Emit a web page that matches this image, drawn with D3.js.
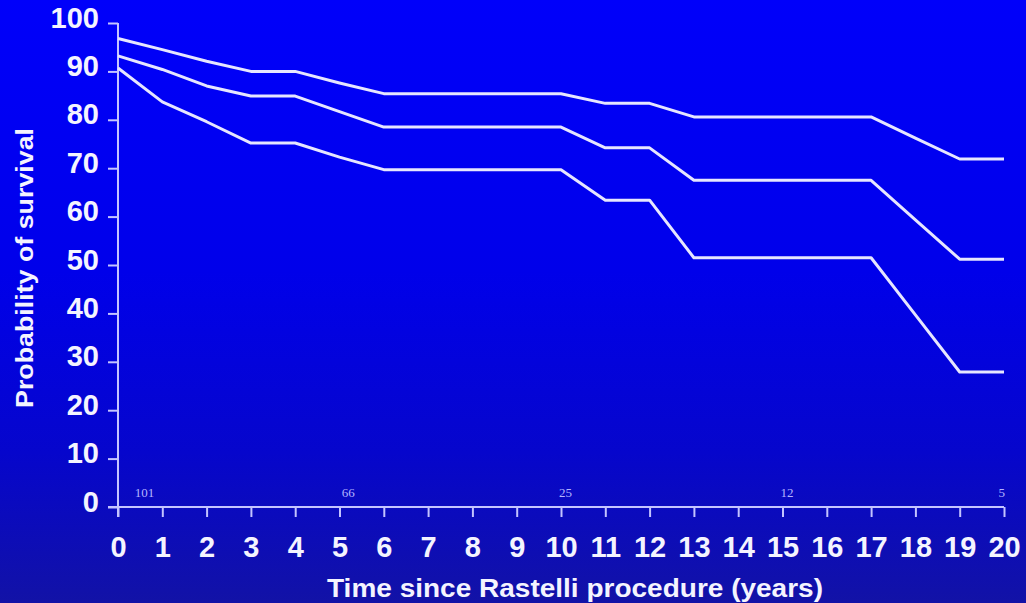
<!DOCTYPE html>
<html>
<head>
<meta charset="utf-8">
<script src="https://cdn.jsdelivr.net/npm/d3@7"></script>
<style>
  html, body { margin: 0; padding: 0; background: #0000e0; }
  svg { display: block; }
</style>
</head>
<body>
<svg id="chart" width="1026" height="603"></svg>
<script>
// Kaplan–Meier survival after the Rastelli procedure, with confidence bounds
const years = d3.range(0, 21);
const upperBound = [96.8, 94.5, 92.1, 90.0, 90.0, 87.6, 85.4, 85.4, 85.4, 85.4, 85.4, 83.4, 83.4, 80.6, 80.6, 80.6, 80.6, 80.6, 76.2, 71.9, 71.9];
const survival   = [93.2, 90.4, 87.0, 84.9, 84.9, 81.7, 78.5, 78.5, 78.5, 78.5, 78.5, 74.2, 74.2, 67.5, 67.5, 67.5, 67.5, 67.5, 59.3, 51.2, 51.2];
const lowerBound = [90.7, 83.7, 79.6, 75.2, 75.2, 72.3, 69.7, 69.7, 69.7, 69.7, 69.7, 63.4, 63.4, 51.5, 51.5, 51.5, 51.5, 51.5, 39.7, 27.9, 27.9];

// Numbers at risk, placed along the time axis
const atRiskYear  = [0.6, 5.2, 10.1, 15.1, 19.95];
const atRiskCount = ["101", "66", "25", "12", "5"];

const yTicks = d3.range(0, 101, 10);
const xTicks = d3.range(0, 21, 1);

const xTitle = "Time since Rastelli procedure (years)";
const yTitle = "Probability of survival";

const W = 1026, H = 603;
const svg = d3.select("#chart");

// Background gradient
const defs = svg.append("defs");
const grad = defs.append("linearGradient")
  .attr("id", "bg").attr("x1", 0).attr("y1", 0).attr("x2", 0).attr("y2", 1);
grad.append("stop").attr("offset", "0%").attr("stop-color", "#0000fa");
grad.append("stop").attr("offset", "45%").attr("stop-color", "#0000ea");
grad.append("stop").attr("offset", "75%").attr("stop-color", "#0606cc");
grad.append("stop").attr("offset", "100%").attr("stop-color", "#1212a6");
svg.append("rect").attr("width", W).attr("height", H).attr("fill", "url(#bg)");

const x = d3.scaleLinear().domain([0, 20]).range([118, 1004]);
const y = d3.scaleLinear().domain([0, 100]).range([507, 23]);

const axisColor = "#c4c4ff";
const textColor = "#f4f4ff";

// Y axis
const yAxis = svg.append("g")
  .attr("transform", `translate(${x(0)},0)`)
  .call(d3.axisLeft(y).tickValues(yTicks).tickSize(10).tickPadding(9).tickSizeOuter(0));
yAxis.select(".domain").attr("stroke", axisColor).attr("stroke-width", 2)
  .attr("d", `M0,${y(100)}V${y(0) + 10}`);
yAxis.selectAll(".tick line").attr("stroke", axisColor).attr("stroke-width", 2);
yAxis.selectAll(".tick text")
  .attr("fill", textColor)
  .attr("font-family", "'Liberation Sans', Arial, sans-serif")
  .attr("font-weight", "bold")
  .attr("font-size", 29)
  .attr("dy", "0.14em");

// X axis
const xAxis = svg.append("g")
  .attr("transform", `translate(0,${y(0)})`)
  .call(d3.axisBottom(x).tickValues(xTicks).tickSize(10).tickPadding(19).tickSizeOuter(0));
xAxis.select(".domain").attr("stroke", axisColor).attr("stroke-width", 2)
  .attr("d", `M${x(0) - 10},0H${x(20)}`);
xAxis.selectAll(".tick line").attr("stroke", axisColor).attr("stroke-width", 2);
xAxis.selectAll(".tick text")
  .attr("fill", textColor)
  .attr("font-family", "'Liberation Sans', Arial, sans-serif")
  .attr("font-weight", "bold")
  .attr("font-size", 29);

// Axis titles
svg.append("text")
  .attr("x", 575).attr("y", 597)
  .attr("text-anchor", "middle")
  .attr("fill", textColor)
  .attr("font-family", "'Liberation Sans', Arial, sans-serif")
  .attr("font-weight", "bold")
  .attr("font-size", 26)
  .attr("textLength", 496)
  .attr("lengthAdjust", "spacingAndGlyphs")
  .text(xTitle);

svg.append("text")
  .attr("transform", "translate(33,268) rotate(-90)")
  .attr("text-anchor", "middle")
  .attr("fill", textColor)
  .attr("font-family", "'Liberation Sans', Arial, sans-serif")
  .attr("font-weight", "bold")
  .attr("font-size", 23)
  .attr("textLength", 280)
  .attr("lengthAdjust", "spacingAndGlyphs")
  .text(yTitle);

// Numbers at risk
svg.append("g").selectAll("text")
  .data(atRiskYear)
  .join("text")
  .attr("x", d => x(d))
  .attr("y", 497)
  .attr("text-anchor", "middle")
  .attr("fill", "#b4b4ff")
  .attr("font-family", "'Liberation Serif', 'Times New Roman', serif")
  .attr("font-size", 13)
  .text((d, i) => atRiskCount[i]);

// Survival curve and confidence bounds
const line = d3.line().x((d, i) => x(years[i])).y(d => y(d));
svg.append("g").selectAll("path")
  .data([upperBound, survival, lowerBound])
  .join("path")
  .attr("d", line)
  .attr("fill", "none")
  .attr("stroke", "#e6e6ff")
  .attr("stroke-width", 3)
  .attr("stroke-linejoin", "round");
</script>
</body>
</html>
